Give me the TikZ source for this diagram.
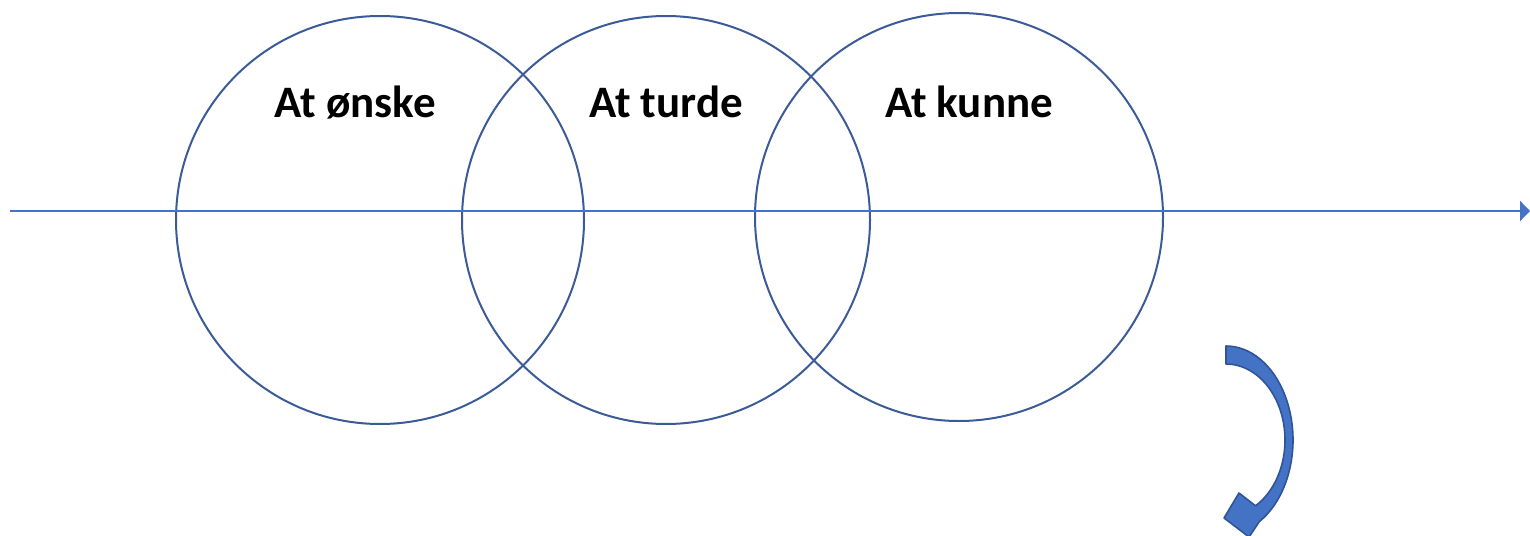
\documentclass[tikz,border=0pt]{standalone}
\usepackage{fontspec}
\setmainfont{Carlito}
\usetikzlibrary{arrows.meta}
\definecolor{ringblue}{HTML}{3A5A98}
\definecolor{axisblue}{HTML}{4472C4}
\definecolor{darkblue}{HTML}{2F5597}
\tikzset{ring/.style={circle, draw=ringblue, line width=1pt, minimum size=204pt, inner sep=0pt},
  lab/.style={anchor=base, font=\bfseries\fontsize{22.5}{27}\selectfont}}
\begin{document}
\begin{tikzpicture}[x=0.5pt,y=-0.5pt]
\useasboundingbox (0,0) rectangle (1530,535);
\node[ring] (cir0) at (380,220){};
\node[ring] (cir1) at (666,220){};
\node[ring] (cir2) at (959,217){};
\node[lab] (lab0) at (355,118){At ønske};
\node[lab] (lab1) at (666,118){At turde};
\node[lab] (lab2) at (969,118){At kunne};
\coordinate (ax0) at (10,211);
\coordinate (ax1) at (1530,211);
\draw[axisblue, line width=1.2pt, -{Triangle[length=5pt,width=10pt]}] (ax0) -- (ax1);
% curved arrow
\filldraw[fill=axisblue, draw=darkblue, line width=0.8pt, line join=round]
  plot[domain=-90:60, samples=40] ({1226+67*cos(\x)}, {440+94*sin(\x)})
  -- (1249,537) -- (1224,518) -- (1239,493)
  -- plot[domain=60:-90, samples=40] ({1226+59*cos(\x)}, {440+76*sin(\x)})
  -- cycle;
\end{tikzpicture}
\end{document}
